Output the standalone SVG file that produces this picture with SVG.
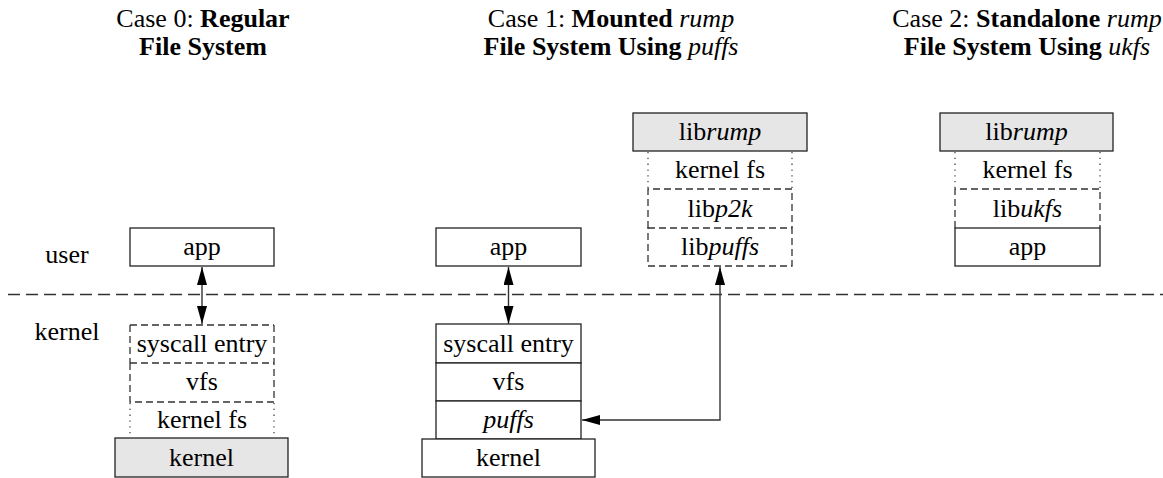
<svg xmlns="http://www.w3.org/2000/svg" width="1163" height="478" viewBox="0 0 1163 478">
<style>
text{font-family:"Liberation Serif","Times New Roman",serif;font-size:26px;fill:#000;text-anchor:middle}
.b{font-weight:bold}
.i{font-style:italic}
.solid{fill:#fff;stroke:#222;stroke-width:1.3}
.gray{fill:#e6e6e6;stroke:#222;stroke-width:1.3}
.dash{fill:none;stroke:#333;stroke-width:1.3;stroke-dasharray:7 4}
.dot{fill:none;stroke:#444;stroke-width:1.3;stroke-dasharray:1.3 4.5}
.sep{fill:none;stroke:#333;stroke-width:1.3;stroke-dasharray:12 6}
.conn{fill:none;stroke:#333;stroke-width:1.4}
</style>
<defs>
<marker id="ah" viewBox="0 0 18 10" refX="18" refY="5" markerWidth="18" markerHeight="10" markerUnits="userSpaceOnUse" orient="auto-start-reverse">
<path d="M0,0 L18,5 L0,10 Z" fill="#000"/>
</marker>
</defs>
<rect width="1163" height="478" fill="#fff"/>

<g id="titles">
<text x="203" y="27">Case 0: <tspan class="b">Regular</tspan></text>
<text x="203" y="55" class="b">File System</text>
<text x="611" y="27">Case 1: <tspan class="b">Mounted</tspan> <tspan class="i">rump</tspan></text>
<text x="611" y="55"><tspan class="b">File System Using</tspan> <tspan class="i">puffs</tspan></text>
<text x="1027" y="27">Case 2: <tspan class="b">Standalone</tspan> <tspan class="i">rump</tspan></text>
<text x="1027" y="55"><tspan class="b">File System Using</tspan> <tspan class="i">ukfs</tspan></text>
</g>

<g id="labels">
<text x="67" y="263">user</text>
<text x="67" y="340">kernel</text>
<line class="sep" x1="8" y1="294.5" x2="1163" y2="294.5"/>
</g>

<!-- Case 0 -->
<g id="c0-app"><rect class="solid" x="130" y="228" width="144" height="38"/><text x="202" y="255">app</text></g>
<g id="c0-syscall"><path class="dash" d="M130,325 H274 M130,325 V363 M274,325 V363 M130,363 H274"/><text x="202" y="352">syscall entry</text></g>
<g id="c0-vfs"><path class="dash" d="M130,363 V402 H274 V363"/><text x="202" y="390">vfs</text></g>
<g id="c0-kernelfs"><path class="dot" d="M130,403 V437 M274,403 V437"/><text x="202" y="428">kernel fs</text></g>
<g id="c0-kernel"><rect class="gray" x="115" y="438" width="173" height="39"/><text x="201.5" y="466">kernel</text></g>

<!-- Case 1 -->
<g id="c1-app"><rect class="solid" x="436" y="228" width="145" height="38"/><text x="508.5" y="255">app</text></g>
<g id="c1-syscall"><rect class="solid" x="436" y="324" width="145" height="39"/><text x="508.5" y="352">syscall entry</text></g>
<g id="c1-vfs"><rect class="solid" x="436" y="363" width="145" height="38"/><text x="508.5" y="390">vfs</text></g>
<g id="c1-puffs"><rect class="solid" x="436" y="401" width="145" height="38"/><text x="508.5" y="428" class="i">puffs</text></g>
<g id="c1-kernel"><rect class="solid" x="422" y="439" width="173" height="38"/><text x="508.5" y="466">kernel</text></g>
<g id="c1-librump"><rect class="gray" x="633" y="113" width="174" height="38"/><text x="720" y="140">lib<tspan class="i">rump</tspan></text></g>
<g id="c1-kernelfs"><path class="dot" d="M648,152 V189 M792,152 V189"/><text x="720" y="178">kernel fs</text></g>
<g id="c1-libp2k"><path class="dash" d="M648,228 V189 H792 V228"/><text x="720" y="217">lib<tspan class="i">p2k</tspan></text></g>
<g id="c1-libpuffs"><rect class="dash" x="648" y="228" width="144" height="38"/><text x="720" y="255">lib<tspan class="i">puffs</tspan></text></g>

<!-- Case 2 -->
<g id="c2-librump"><rect class="gray" x="940" y="113" width="173" height="38"/><text x="1026.5" y="140">lib<tspan class="i">rump</tspan></text></g>
<g id="c2-kernelfs"><path class="dot" d="M955,152 V189 M1100,152 V189"/><text x="1027.5" y="178">kernel fs</text></g>
<g id="c2-libukfs"><path class="dash" d="M955,228 V189 H1100 V228"/><text x="1027.5" y="217">lib<tspan class="i">ukfs</tspan></text></g>
<g id="c2-app"><rect class="solid" x="955" y="228" width="145" height="38"/><text x="1027.5" y="255">app</text></g>

<g id="connectors">
<line class="conn" x1="202" y1="267" x2="202" y2="324" marker-start="url(#ah)" marker-end="url(#ah)"/>
<line class="conn" x1="508.5" y1="267" x2="508.5" y2="324" marker-start="url(#ah)" marker-end="url(#ah)"/>
<path class="conn" d="M720,267 V420 H582" marker-start="url(#ah)" marker-end="url(#ah)"/>
</g>
</svg>
